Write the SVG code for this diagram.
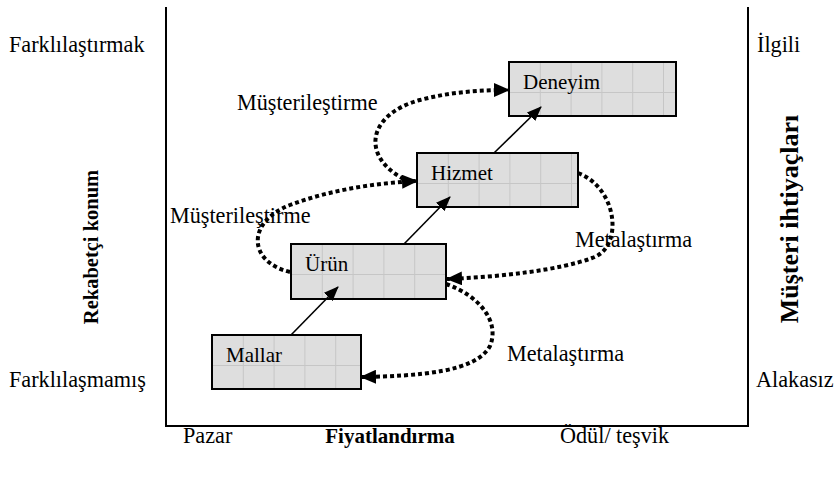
<svg xmlns="http://www.w3.org/2000/svg" width="834" height="479" viewBox="0 0 834 479">
  <style>
    .lbl { font-family: "Liberation Serif", "Times New Roman", serif; font-size: 22.2px; fill: #000; }
    .in { font-family: "Liberation Serif", "Times New Roman", serif; font-size: 21px; fill: #000; }
    .axis { font-family: "Liberation Serif", "Times New Roman", serif; font-weight: bold; fill: #000; }
    .box { fill: url(#grid); stroke: #000; stroke-width: 2; }
    .frame { fill: none; stroke: #000; stroke-width: 2; }
    .solid { fill: none; stroke: #000; stroke-width: 1.6; marker-end: url(#head); }
    .dotted { fill: none; stroke: #000; stroke-width: 4; stroke-dasharray: 4 3; marker-end: url(#headBig); }
  </style>
  <defs>
    <!-- light grey fill with a faint grid, aligned to each box's origin -->
    <pattern id="grid" patternUnits="userSpaceOnUse" x="0" y="0" width="30.8" height="30">
      <rect width="30.8" height="30" fill="#dedede"/>
      <path d="M0.5 0 V30 M0 0.5 H30.8" stroke="#c6c6c6" stroke-width="1" fill="none"/>
    </pattern>
    <marker id="head" markerUnits="userSpaceOnUse" markerWidth="15" markerHeight="12" refX="14" refY="6" orient="auto">
      <path d="M0,0 L15,6 L0,12 z" fill="#000"/>
    </marker>
    <marker id="headBig" markerUnits="userSpaceOnUse" markerWidth="16" markerHeight="14" refX="15" refY="7" orient="auto">
      <path d="M0,0 L16,7 L0,14 z" fill="#000"/>
    </marker>
  </defs>

  <rect width="834" height="479" fill="#fff"/>

  <!-- chart frame: left, bottom and right sides -->
  <path class="frame" d="M166 7 V426 H748 V7"/>

  <!-- axis end labels -->
  <text class="lbl" x="9" y="52">Farklılaştırmak</text>
  <text class="lbl" x="9" y="387">Farklılaşmamış</text>
  <text class="lbl" x="757" y="52">İlgili</text>
  <text class="lbl" x="756" y="387">Alakasız</text>
  <text class="lbl" x="183" y="443">Pazar</text>
  <text class="lbl" x="560" y="443">Ödül/ teşvik</text>

  <!-- axis titles -->
  <text class="axis" font-size="21" x="390" y="443" text-anchor="middle">Fiyatlandırma</text>
  <text class="axis" font-size="20.5" text-anchor="middle" transform="translate(98 247) rotate(-90)">Rekabetçi konum</text>
  <text class="axis" font-size="26" text-anchor="middle" transform="translate(798 219) rotate(-90)">Müşteri ihtiyaçları</text>

  <!-- curve labels -->
  <text class="lbl" x="237" y="110">Müşterileştirme</text>
  <text class="lbl" x="170" y="223">Müşterileştirme</text>
  <text class="lbl" x="575" y="247">Metalaştırma</text>
  <text class="lbl" x="507" y="361">Metalaştırma</text>

  <!-- nodes -->
  <g id="node-mallar" transform="translate(212 335)">
    <rect class="box" width="149" height="54"/>
    <text class="in" x="14" y="27">Mallar</text>
  </g>
  <g id="node-urun" transform="translate(291 244)">
    <rect class="box" width="155" height="55"/>
    <text class="in" x="14" y="27">Ürün</text>
  </g>
  <g id="node-hizmet" transform="translate(417 153)">
    <rect class="box" width="161" height="54"/>
    <text class="in" x="14" y="27">Hizmet</text>
  </g>
  <g id="node-deneyim" transform="translate(509 62)">
    <rect class="box" width="167" height="54"/>
    <text class="in" x="14" y="27">Deneyim</text>
  </g>

  <!-- connectors -->
  <g id="connectors">
    <line class="solid" x1="291" y1="335" x2="338" y2="287"/>
    <line class="solid" x1="404" y1="244" x2="450" y2="197"/>
    <line class="solid" x1="494" y1="153" x2="541" y2="107"/>

    <path class="dotted" d="M446 284 C480 296 500 322 490 346 C476 372 420 376 361 377"/>
    <path class="dotted" d="M578 173 C618 188 624 248 592 258 C560 270 500 277 447 279"/>
    <path class="dotted" d="M290 272 C248 262 246 222 290 205 C330 190 375 183 417 181"/>
    <path class="dotted" d="M410 182 C360 160 365 115 420 100 C450 92 480 90 509 90"/>
  </g>
</svg>
